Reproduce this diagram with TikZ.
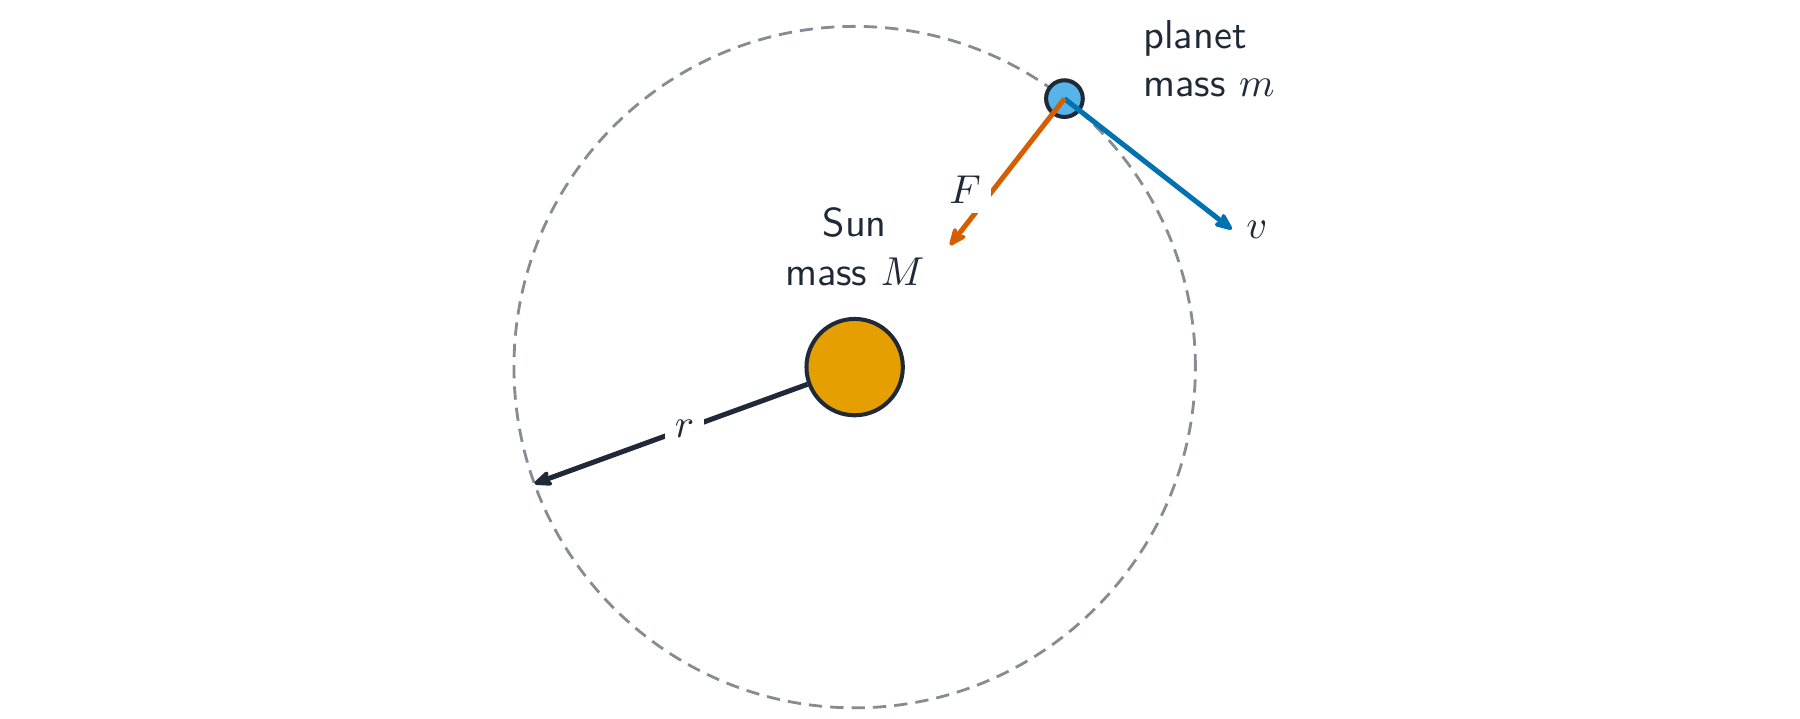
\documentclass[tikz,border=0pt]{standalone}
\usetikzlibrary{arrows.meta}
\definecolor{ink}{HTML}{1F2937}
\definecolor{orbitgray}{HTML}{878C94}
\definecolor{sunorange}{HTML}{E69F00}
\definecolor{planetblue}{HTML}{56B4E9}
\definecolor{forcered}{HTML}{D55E00}
\definecolor{velblue}{HTML}{0072B2}
\tikzset{
  orbit/.style={draw=orbitgray, line width=0.7pt, dash pattern=on 3.3pt off 2pt},
  sunbody/.style={circle, draw=ink, line width=1pt, fill=sunorange, minimum size=0.84cm, inner sep=0pt},
  planetbody/.style={circle, draw=ink, line width=1pt, fill=planetblue, minimum size=0.32cm, inner sep=0pt},
  vec/.style={line width=1.25pt, -{Stealth[length=6pt,width=5pt,round]}},
  lbl/.style={fill=white, inner sep=2.5pt},
  txt/.style={inner sep=0pt, text=ink}
}
\begin{document}
\begin{tikzpicture}[font=\sffamily]
\useasboundingbox (-7.45,-3.06) rectangle (8.24,3.20);
\draw[orbit] (0,0) circle (2.97);
\node[sunbody] (sun) at (0,0) {};
\node[planetbody] (planet) at (52:2.97) {};
\coordinate (vend) at (3.287,1.201);
\coordinate (fend) at (0.832,1.063);
\coordinate (rend) at (200:2.97);
\draw[vec, draw=velblue] (planet.center) -- (vend) node[right, text=ink, inner sep=3pt] (vlabel) {$v$};
\draw[vec, draw=forcered] (planet.center) -- (fend) node[pos=0.62, left, lbl, text=ink] (flabel) {$F$};
\draw[vec, draw=ink] (sun) -- (rend) node[pos=0.45, lbl, text=ink] (rlabel) {$r$};
\node[txt, align=center] (sunlabel) at (0,1.05) {Sun\\mass $M$};
\node[txt, align=left, anchor=west] (planetlabel) at (2.51,2.69) {planet\\mass $m$};
\end{tikzpicture}
\end{document}
